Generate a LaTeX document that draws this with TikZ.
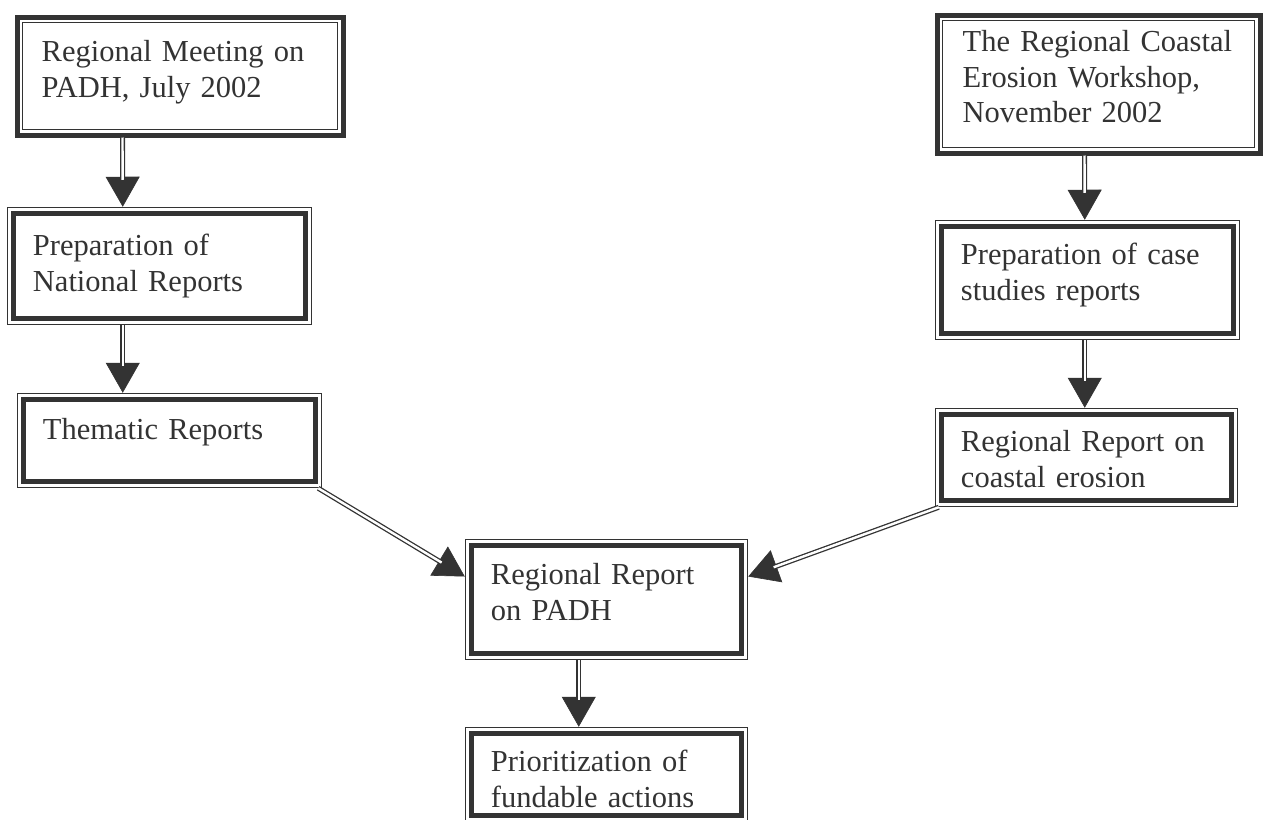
\documentclass[tikz,border=0pt]{standalone}
\usepackage{fontspec}
\setmainfont{Liberation Serif}
\usetikzlibrary{arrows.meta,calc}
\definecolor{ink}{HTML}{333333}
\newcommand\myconn[2]{\draw[tipline] #1 -- #2; \draw[shaft] #1 -- #2;}
\tikzset{
 boxa/.style={draw=ink, line width=5pt, inner sep=0pt,
   path picture={\draw[ink, line width=1.5pt] ([shift={(5.5pt,-5.5pt)}]path picture bounding box.north west) rectangle ([shift={(-5.5pt,5.5pt)}]path picture bounding box.south east);}},
 boxb/.style={draw=ink, line width=1.5pt, inner sep=0pt,
   path picture={\draw[ink, line width=5pt] ([shift={(6pt,-6pt)}]path picture bounding box.north west) rectangle ([shift={(-6pt,6pt)}]path picture bounding box.south east);}},
 txt/.style={anchor=base west, inner sep=0pt, text width=320pt, align=left, text=ink, font=\fontsize{30.5}{35.5}\selectfont},
 tipline/.style={ink, line width=0.6pt, -{Triangle[length=30pt,width=34pt]}},
 shaft/.style={ink, line width=1.3pt, double=white, double distance=2.4pt, shorten >=27pt}
}
\begin{document}
\begin{tikzpicture}[x=1pt,y=-1pt]
\useasboundingbox[fill=white] (0,0) rectangle (1268,819);
% boxes
\node[boxa, minimum width=326pt, minimum height=118pt] (b1) at (180,76) {};
\node[boxb, minimum width=304pt, minimum height=117pt] (b2) at (159.5,266) {};
\node[boxb, minimum width=304pt, minimum height=94pt] (b3) at (169.5,440.5) {};
\node[boxa, minimum width=323pt, minimum height=138pt] (b4) at (1098.5,84) {};
\node[boxb, minimum width=304pt, minimum height=119pt] (b5) at (1087.5,280) {};
\node[boxb, minimum width=302pt, minimum height=98pt] (b6) at (1086.5,457.5) {};
\node[boxb, minimum width=282pt, minimum height=120pt] (b7) at (606.5,599.5) {};
\node[boxb, minimum width=282pt, minimum height=94pt] (b8) at (606.5,774.5) {};
% texts
\node[txt] (t1) at ([shift={(27pt,-47pt)}]b1.north west) {Regional Meeting on\\PADH, July 2002};
\node[txt] (t2) at ([shift={(26pt,-49pt)}]b2.north west) {Preparation of\\National Reports};
\node[txt] (t3) at ([shift={(26pt,-47pt)}]b3.north west) {Thematic Reports};
\node[txt] (t4) at ([shift={(28pt,-39pt)}]b4.north west) {The Regional Coastal\\Erosion Workshop,\\November 2002};
\node[txt] (t5) at ([shift={(26pt,-45pt)}]b5.north west) {Preparation of case\\studies reports};
\node[txt] (t6) at ([shift={(26pt,-44pt)}]b6.north west) {Regional Report on\\coastal erosion};
\node[txt] (t7) at ([shift={(26pt,-46pt)}]b7.north west) {Regional Report\\on PADH};
\node[txt] (t8) at ([shift={(26pt,-45pt)}]b8.north west) {Prioritization of\\fundable actions};
% connectors
\myconn{([xshift=108pt]b1.south west)}{([xshift=116pt]b2.north west)}
\myconn{([xshift=116pt]b2.south west)}{([xshift=106pt]b3.north west)}
\myconn{([xshift=150pt]b4.south west)}{([xshift=150pt]b5.north west)}
\myconn{([xshift=150pt]b5.south west)}{([xshift=150pt]b6.north west)}
\myconn{([xshift=-4pt]b3.south east)}{([yshift=23pt]b7.west)}
\myconn{([xshift=4pt]b6.south west)}{([yshift=23pt]b7.east)}
\myconn{([xshift=114pt]b7.south west)}{([xshift=114pt]b8.north west)}
\end{tikzpicture}
\end{document}
